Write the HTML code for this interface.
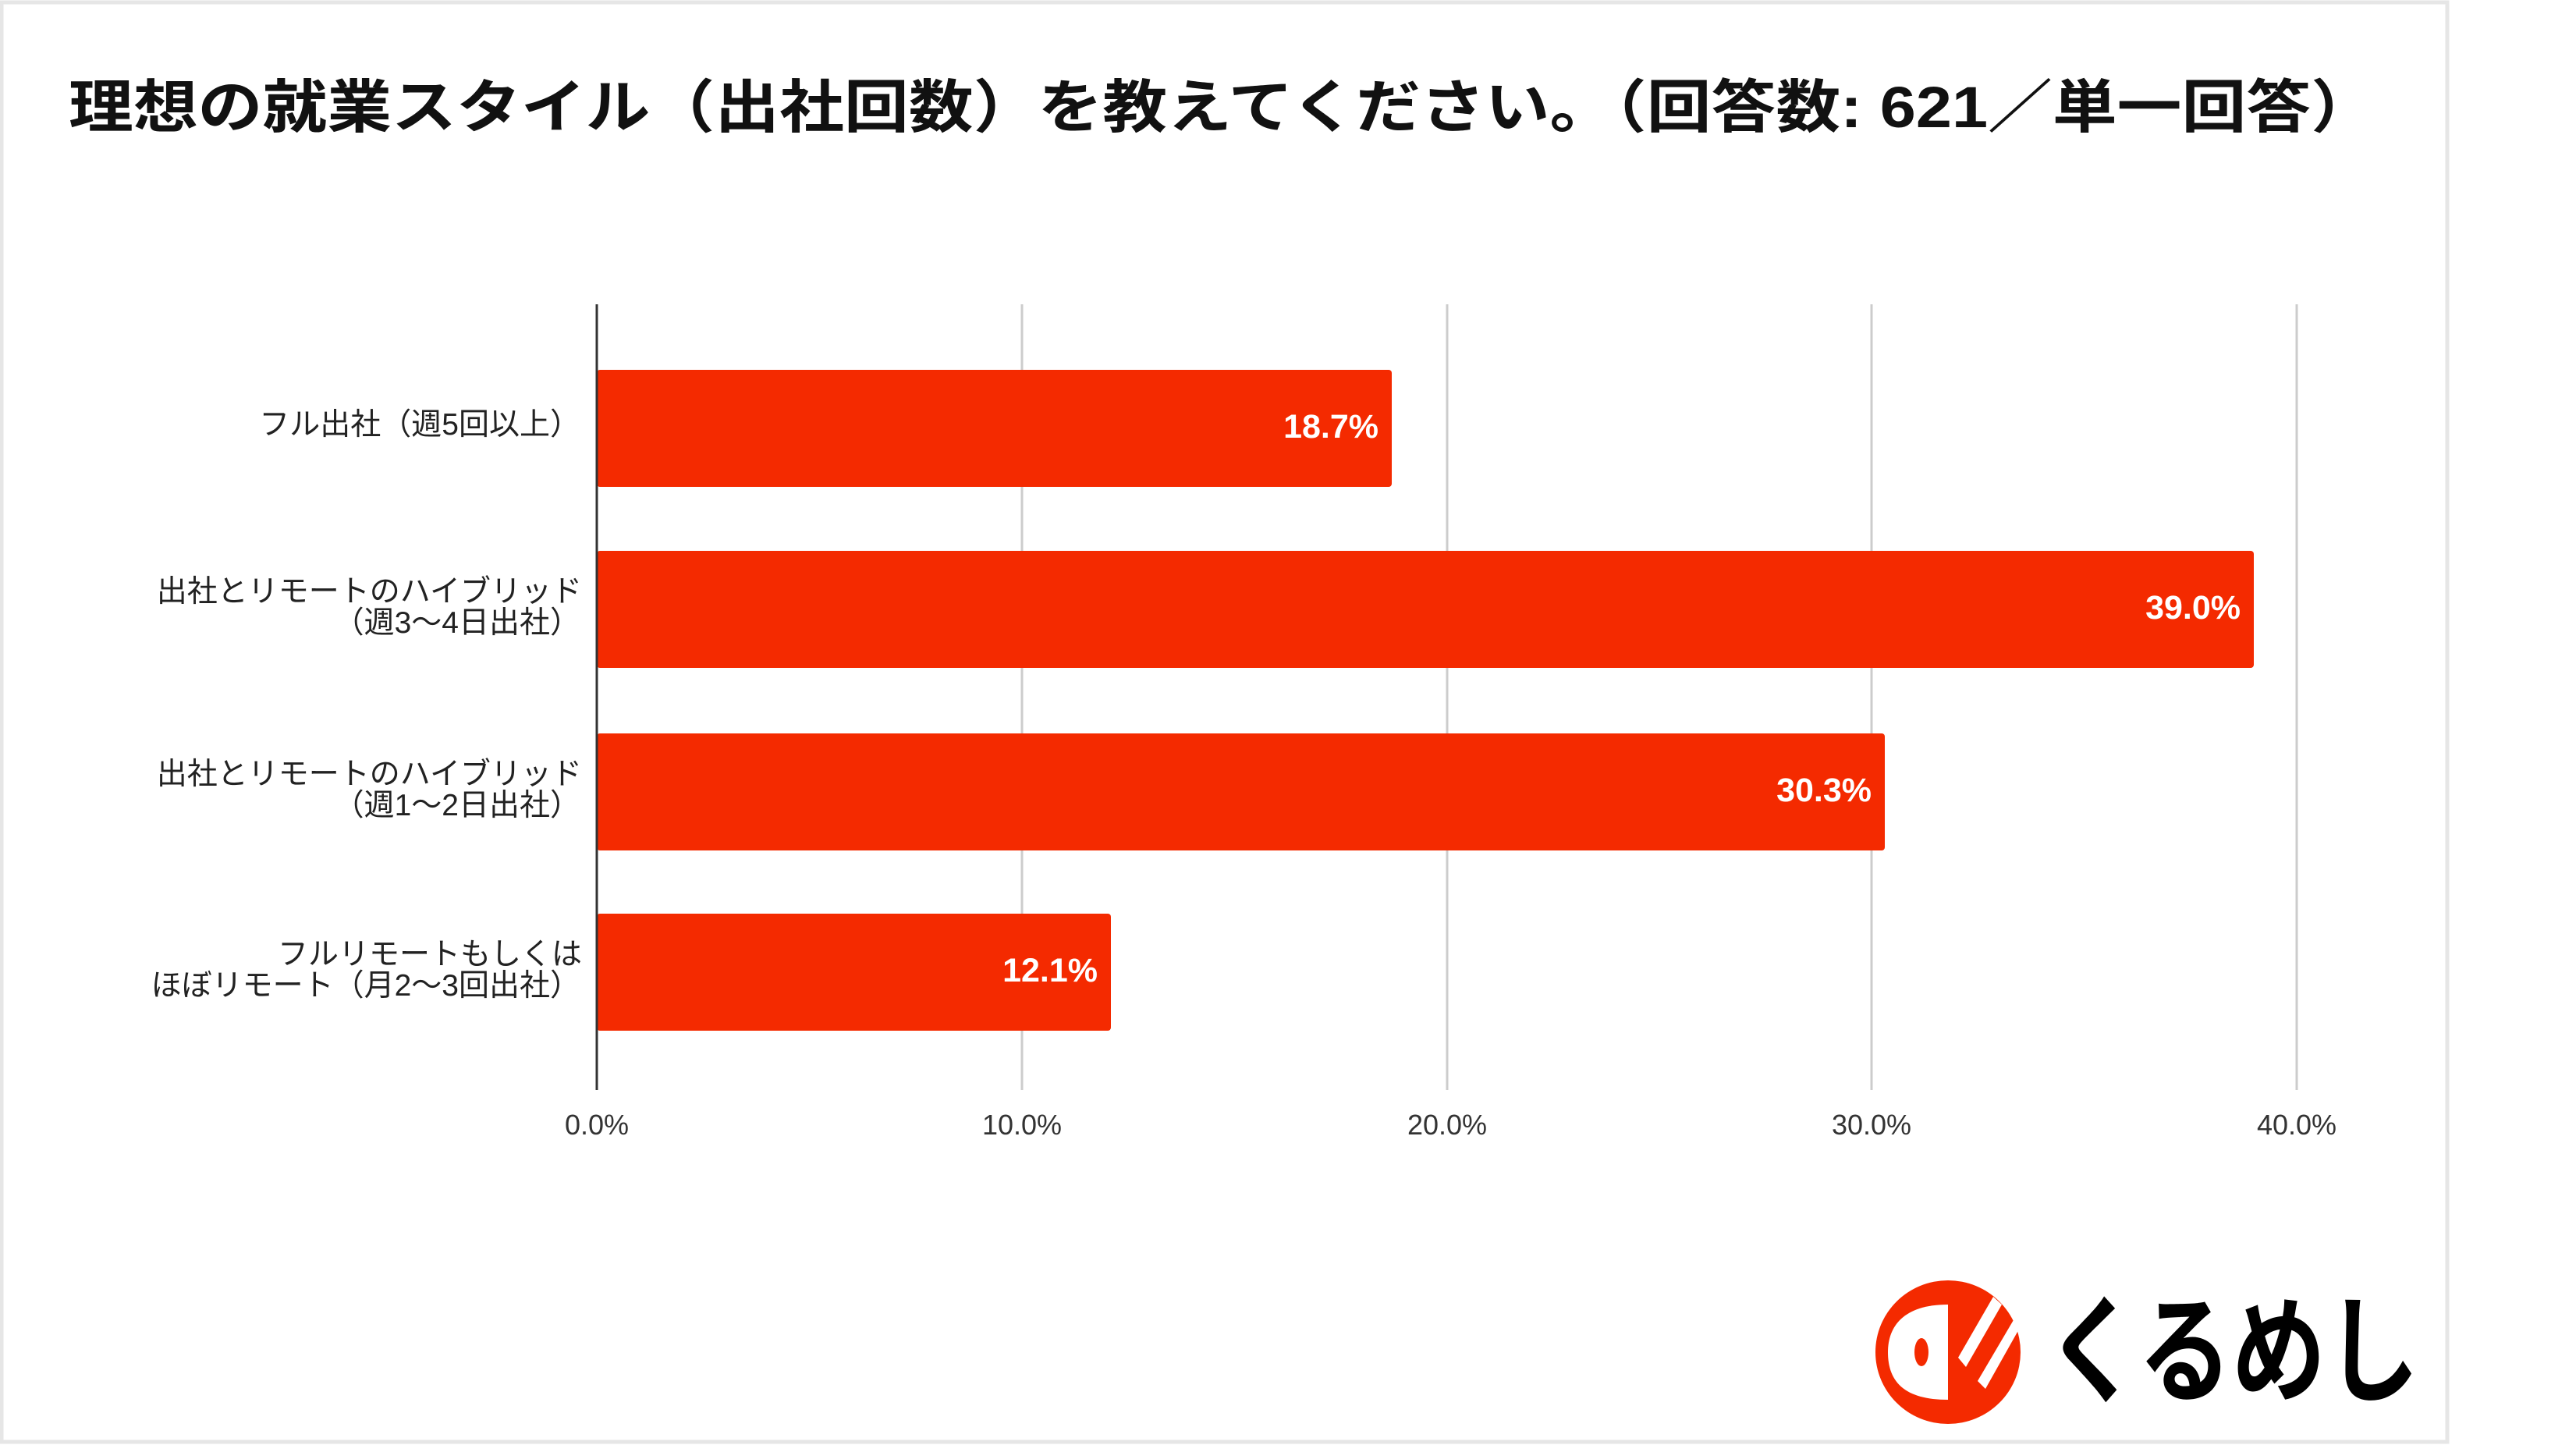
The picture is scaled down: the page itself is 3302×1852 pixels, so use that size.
<!DOCTYPE html>
<html><head><meta charset="utf-8"><style>
html,body{margin:0;padding:0;background:#ffffff;}
svg{display:block}
</style></head><body>
<svg width="3302" height="1852" viewBox="0 0 3302 1852" xmlns="http://www.w3.org/2000/svg">
<rect x="0" y="0" width="3302" height="1852" fill="#ffffff"/>
<rect x="2" y="3" width="3135" height="1845" fill="none" stroke="#e6e6e6" stroke-width="5"/>
<text x="88" y="163" font-family="'Liberation Sans','Noto Sans CJK JP',sans-serif" font-size="74" font-weight="bold" fill="#111" textLength="2957" lengthAdjust="spacingAndGlyphs">理想の就業スタイル（出社回数）を教えてください。（回答数: 621／単一回答）</text>
<g stroke="#cccccc" stroke-width="3">
<line x1="1310" y1="390" x2="1310" y2="1397"/>
<line x1="1855" y1="390" x2="1855" y2="1397"/>
<line x1="2399" y1="390" x2="2399" y2="1397"/>
<line x1="2944" y1="390" x2="2944" y2="1397"/>
</g>
<g fill="#f42a00">
<rect x="765" y="474" width="1019" height="150" rx="4"/>
<rect x="765" y="706" width="2124" height="150" rx="4"/>
<rect x="765" y="940" width="1651" height="150" rx="4"/>
<rect x="765" y="1171" width="659" height="150" rx="4"/>
</g>
<line x1="765" y1="390" x2="765" y2="1397" stroke="#333" stroke-width="3"/>
<g font-family="'Liberation Sans','Noto Sans CJK JP',sans-serif" font-size="43" font-weight="bold" fill="#fff" text-anchor="end">
<text x="1767" y="561">18.7%</text>
<text x="2872" y="793">39.0%</text>
<text x="2399" y="1027">30.3%</text>
<text x="1407" y="1258">12.1%</text>
</g>
<g font-family="'Liberation Sans','Noto Sans CJK JP',sans-serif" font-size="39" fill="#222" text-anchor="end">
<text x="744" y="557">フル出社（週5回以上）</text>
<text x="746" y="771">出社とリモートのハイブリッド</text>
<text x="744" y="811">（週3〜4日出社）</text>
<text x="746" y="1005">出社とリモートのハイブリッド</text>
<text x="744" y="1045">（週1〜2日出社）</text>
<text x="746" y="1236">フルリモートもしくは</text>
<text x="744" y="1276">ほぼリモート（月2〜3回出社）</text>
</g>
<g font-family="'Liberation Sans','Noto Sans CJK JP',sans-serif" font-size="36" fill="#333" text-anchor="middle">
<text x="765" y="1454">0.0%</text>
<text x="1310" y="1454">10.0%</text>
<text x="1855" y="1454">20.0%</text>
<text x="2399" y="1454">30.0%</text>
<text x="2944" y="1454">40.0%</text>
</g>
<g>
<ellipse cx="2497" cy="1733" rx="93" ry="92" fill="#f42a00"/>
<path d="M2497 1672 C2440 1672 2420 1700 2420 1733 C2420 1770 2440 1794 2497 1794 Z" fill="#fff"/>
<ellipse cx="2463" cy="1733" rx="9" ry="18" fill="#f42a00"/>
<path d="M2510 1740 L2555 1662 L2566 1672 L2520 1752 Z" fill="#fff"/>
<path d="M2535 1770 L2585 1685 L2590 1700 L2545 1780 Z" fill="#fff"/>
<text x="2623" y="1785" font-family="'Liberation Sans','Noto Sans CJK JP',sans-serif" font-size="150" font-weight="bold" fill="#000" textLength="478" lengthAdjust="spacingAndGlyphs">くるめし</text>
</g>
</svg>
</body></html>
